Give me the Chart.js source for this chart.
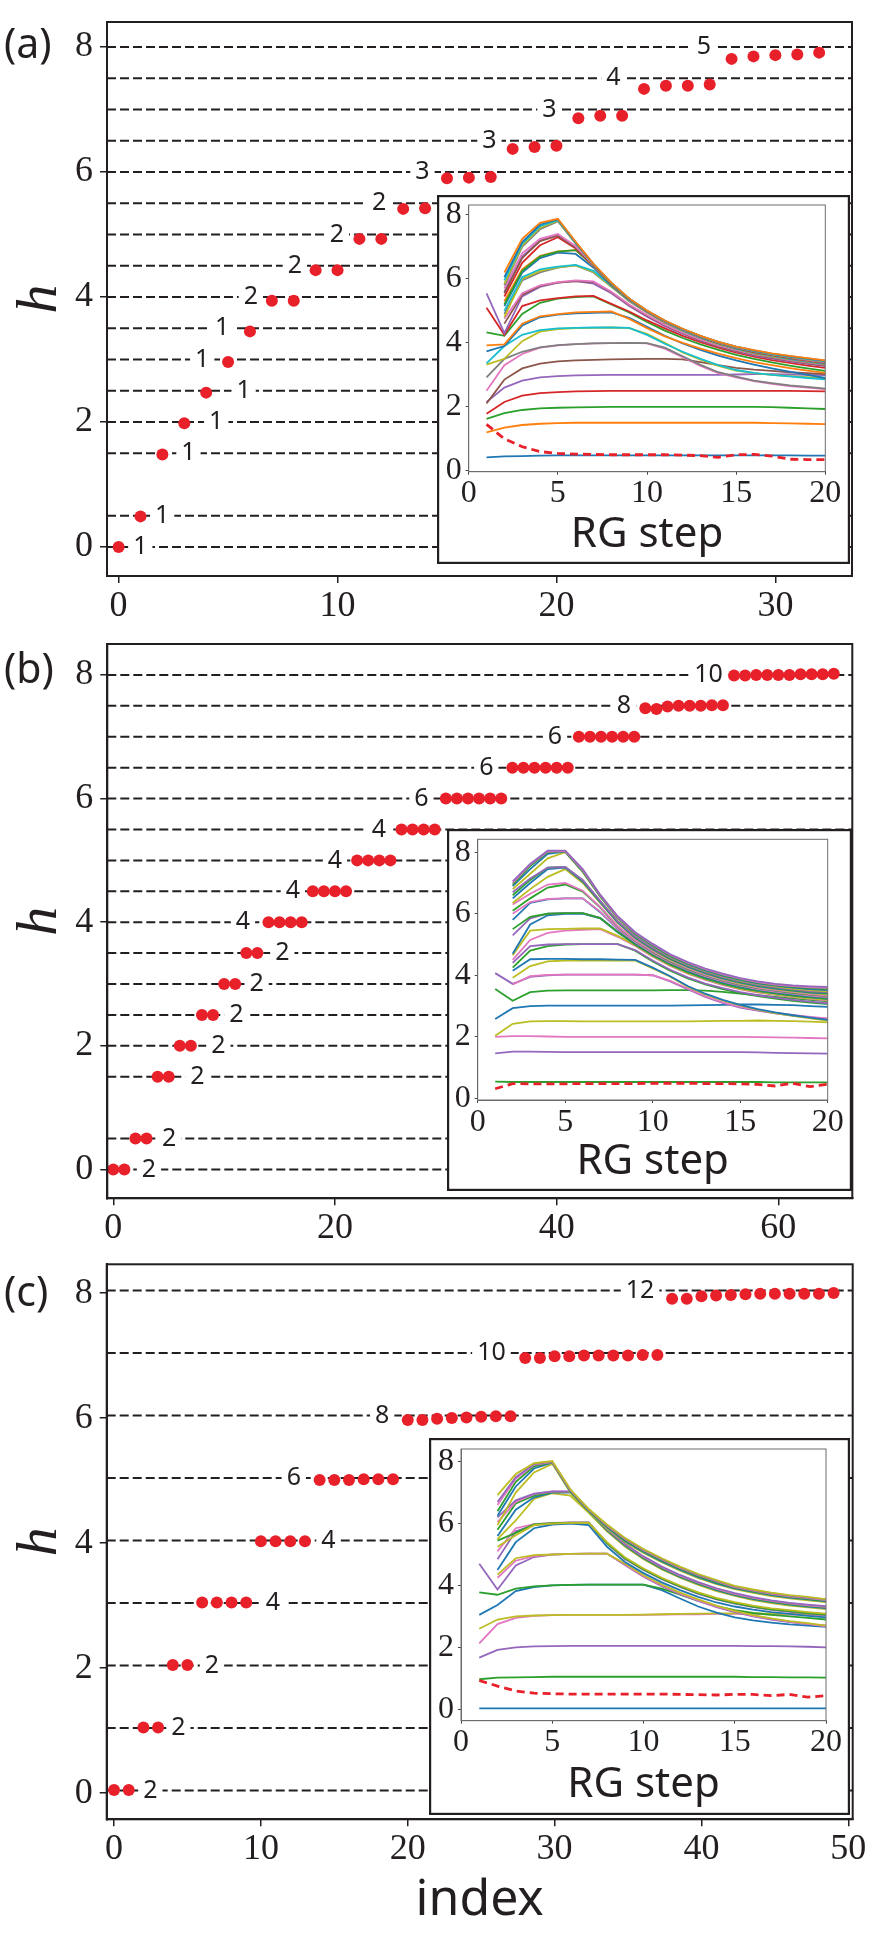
<!DOCTYPE html>
<html>
<head>
<meta charset="utf-8">
<script src="https://cdn.jsdelivr.net/npm/chart.js@4.4.1/dist/chart.umd.min.js"></script>
<style>
  html, body { margin: 0; padding: 0; background: #fff; }
  body { width: 876px; height: 1943px; position: relative; overflow: hidden; }
  canvas { position: absolute; }
</style>
</head>
<body>
<canvas id="mainA" width="876" height="630" style="left:0;top:0"></canvas>
<canvas id="mainB" width="876" height="620" style="left:0;top:630px"></canvas>
<canvas id="mainC" width="876" height="693" style="left:0;top:1250px"></canvas>
<canvas id="insetA" width="413" height="369" style="left:437px;top:195px"></canvas>
<canvas id="insetB" width="405" height="362" style="left:447px;top:829px"></canvas>
<canvas id="insetC" width="421" height="377" style="left:429px;top:1438px"></canvas>
<script>
const INK = '#231f20';
const RED = '#e8202a';
const SERIF = '"Liberation Serif", "DejaVu Serif", serif';
const SANS = '"Noto Sans", "Open Sans", sans-serif';
const blue = '#1f77b4', orange = '#ff7f0e', green = '#2ca02c', red = '#d62728', purple = '#9467bd',
      brown = '#8c564b', pink = '#e377c2', gray = '#7f7f7f', olive = '#bcbd22', cyan = '#17becf';

// ---- main panels: h vs index ----
const hA = [0, 0.49, 1.48, 1.98, 2.47, 2.96, 3.45, 3.94, 3.94, 4.43, 4.43, 4.93, 4.93, 5.41, 5.42,
  5.90, 5.91, 5.92, 6.37, 6.40, 6.42, 6.86, 6.90, 6.90, 7.33, 7.38, 7.38, 7.40, 7.81, 7.85, 7.87, 7.88, 7.91];
const levelsA = [0, 0.5, 1.5, 2, 2.5, 3, 3.5, 4, 4.5, 5, 5.5, 6, 6.5, 7, 7.5, 8];
const labelTextA = ['1','1','1','1','1','1','1','2','2','2','2','3','3','3','4','5'];
const labelXA = [0.99, 1.99, 3.19, 4.46, 5.71, 3.82, 4.73, 6.04, 8.05, 9.97, 11.9, 13.88, 16.94, 19.68, 22.6, 26.74];
const labelYA = [0, 0.5, 1.5, 2, 2.5, 3, 3.5, 4, 4.5, 5, 5.5, 6, 6.5, 7, 7.5, 8];
const xTicksA = [0, 10, 20, 30];

const hB = [0, 0, 0.5, 0.5, 1.5, 1.5, 2, 2, 2.5, 2.5, 3, 3, 3.5, 3.5,
  4, 4, 4, 4, 4.5, 4.5, 4.5, 4.5, 5, 5, 5, 5, 5.5, 5.5, 5.5, 5.5,
  6, 6, 6, 6, 6, 6, 6.5, 6.5, 6.5, 6.5, 6.5, 6.5, 7, 7, 7, 7, 7, 7,
  7.46, 7.45, 7.49, 7.5, 7.5, 7.5, 7.51, 7.51,
  7.99, 7.99, 8, 8, 8, 8, 8.01, 8.01, 8.01, 8.02];
const levelsB = [0, 0.5, 1.5, 2, 2.5, 3, 3.5, 4, 4.5, 5, 5.5, 6, 6.5, 7, 7.5, 8];
const labelTextB = ['2','2','2','2','2','2','2','4','4','4','4','6','6','6','8','10'];
const labelXB = [3.22, 5.03, 7.58, 9.48, 11.1, 12.93, 15.25, 11.7, 16.2, 20.0, 23.97, 27.8, 33.65, 39.85, 46.07, 53.7];
const labelYB = [0, 0.5, 1.5, 2, 2.5, 3, 3.5, 4, 4.5, 5, 5.5, 6, 6.5, 7, 7.5, 8];
const xTicksB = [0, 20, 40, 60];

const hC = [0.05, 0.05, 1.05, 1.05, 2.05, 2.05, 3.05, 3.05, 3.05, 3.05,
  4.03, 4.03, 4.03, 4.03, 5.01, 5.01, 5.01, 5.02, 5.02, 5.02,
  5.97, 5.97, 5.99, 6.0, 6.01, 6.02, 6.03, 6.03,
  6.96, 6.96, 6.99, 6.99, 7.0, 7.0, 7.0, 7.0, 7.01, 7.01,
  7.91, 7.91, 7.95, 7.96, 7.97, 7.98, 7.99, 7.99, 7.99, 7.99, 7.99, 8.0];
const levelsC = [0.04, 1.04, 2.04, 3.04, 4.04, 5.04, 6.04, 7.04, 8.04];
const labelTextC = ['2','2','2','4','4','6','8','10','12'];
const labelXC = [2.47, 4.38, 6.67, 10.82, 14.6, 12.24, 18.26, 25.7, 35.82];
const labelYC = [0.04, 1.04, 2.04, 3.04, 4.04, 5.04, 6.04, 7.04, 8.04];
const xTicksC = [0, 10, 20, 30, 40, 50];

const hTicks = [0, 2, 4, 6, 8];

// ---- insets: h vs RG step ----
const steps = [1,2,3,4,5,6,7,8,9,10,11,12,13,14,15,16,17,18,19,20];
const stepTicks = [0, 5, 10, 15, 20];

const insetA = [
  [0.42,0.45,0.46,0.47,0.48,0.48,0.48,0.48,0.48,0.48,0.48,0.48,0.48,0.48,0.48,0.48,0.48,0.48,0.47,0.47],
  [1.2,1.35,1.43,1.47,1.49,1.5,1.5,1.5,1.5,1.5,1.5,1.5,1.5,1.5,1.5,1.5,1.49,1.48,1.47,1.46],
  [1.62,1.8,1.9,1.95,1.97,1.98,1.99,2,2,2,2,2,2,2,2,2,1.99,1.97,1.95,1.93],
  [1.78,2.15,2.35,2.43,2.46,2.48,2.49,2.5,2.5,2.5,2.5,2.5,2.5,2.5,2.5,2.5,2.5,2.5,2.49,2.48],
  [2.15,2.6,2.82,2.92,2.96,2.98,2.99,3,3,3,3,3,3,3,3.01,3.02,3.02,3.01,3,2.99],
  [2.1,2.85,3.2,3.35,3.42,3.45,3.47,3.48,3.49,3.5,3.5,3.48,3.4,3.3,3.22,3.16,3.12,3.08,3.05,3.02],
  [2.5,3.3,3.65,3.85,3.92,3.96,3.98,3.99,4,3.98,3.82,3.55,3.28,3.05,2.92,2.8,2.72,2.65,2.6,2.55],
  [2.92,3.5,3.72,3.86,3.93,3.96,3.98,3.99,4,3.99,3.85,3.58,3.31,3.08,2.94,2.82,2.74,2.67,2.62,2.57],
  [3.32,3.5,4.05,4.35,4.43,4.46,4.47,4.48,4.46,4.28,4.0,3.7,3.47,3.28,3.13,3.05,3.0,2.96,2.93,2.9],
  [3.36,3.9,4.25,4.4,4.45,4.47,4.48,4.48,4.47,4.25,3.97,3.72,3.5,3.3,3.15,3.06,3.0,2.95,2.9,2.86],
  [3.73,3.9,4.54,4.8,4.88,4.92,4.94,4.95,4.78,4.5,4.22,3.98,3.78,3.6,3.45,3.32,3.2,3.1,3.0,2.9],
  [3.92,3.95,4.6,4.83,4.9,4.95,4.97,4.98,4.75,4.46,4.2,4.0,3.82,3.66,3.52,3.4,3.3,3.21,3.13,3.06],
  [4.33,4.22,4.9,5.25,5.38,5.43,5.45,5.2,4.95,4.65,4.38,4.15,3.95,3.78,3.62,3.5,3.39,3.29,3.2,3.12],
  [5.1,4.25,5.15,5.33,5.4,5.45,5.47,5.22,4.98,4.7,4.45,4.22,4.02,3.85,3.69,3.57,3.46,3.37,3.29,3.22],
  [5.55,4.3,5.45,5.75,5.88,5.93,5.85,5.55,5.15,4.82,4.52,4.28,4.07,3.89,3.73,3.61,3.51,3.42,3.34,3.27],
  [null,4.6,5.5,5.78,5.88,5.93,5.9,5.58,5.18,4.85,4.55,4.3,4.08,3.9,3.75,3.63,3.53,3.44,3.36,3.29],
  [null,4.75,5.55,5.8,5.9,5.95,5.92,5.6,5.2,4.87,4.57,4.32,4.1,3.92,3.77,3.65,3.55,3.46,3.38,3.31],
  [null,4.9,5.95,6.2,6.35,6.42,6.2,5.75,5.3,4.95,4.63,4.37,4.15,3.96,3.8,3.67,3.57,3.48,3.4,3.33],
  [null,4.8,6.0,6.25,6.36,6.42,6.22,5.76,5.32,4.96,4.64,4.38,4.16,3.97,3.81,3.68,3.58,3.49,3.41,3.34],
  [null,5.0,6.05,6.3,6.38,6.44,6.25,5.78,5.33,4.97,4.65,4.39,4.17,3.98,3.82,3.69,3.59,3.5,3.42,3.35],
  [null,5.15,6.2,6.65,6.82,6.78,6.35,5.8,5.34,4.97,4.66,4.4,4.18,3.99,3.83,3.7,3.6,3.51,3.43,3.36],
  [null,5.3,6.3,6.72,6.86,6.9,6.4,5.82,5.35,4.98,4.67,4.41,4.19,4.0,3.84,3.71,3.61,3.52,3.44,3.37],
  [null,5.2,6.25,6.7,6.85,6.9,6.42,5.83,5.36,4.98,4.67,4.41,4.19,4.0,3.84,3.72,3.62,3.53,3.45,3.38],
  [null,5.45,6.5,7.05,7.3,6.95,6.42,5.84,5.36,4.98,4.67,4.41,4.19,4.0,3.85,3.72,3.62,3.53,3.45,3.38],
  [null,5.6,6.7,7.2,7.36,7.0,6.43,5.85,5.37,4.99,4.68,4.42,4.2,4.01,3.85,3.73,3.63,3.54,3.46,3.39],
  [null,5.55,6.65,7.18,7.35,6.98,6.43,5.85,5.37,4.99,4.68,4.42,4.2,4.01,3.86,3.73,3.63,3.54,3.46,3.39],
  [null,5.7,6.8,7.25,7.4,7.02,6.44,5.86,5.37,4.99,4.68,4.42,4.2,4.01,3.86,3.74,3.64,3.55,3.47,3.4],
  [null,5.8,7.0,7.55,7.8,7.1,6.45,5.86,5.37,4.99,4.68,4.42,4.2,4.02,3.86,3.74,3.64,3.55,3.48,3.41],
  [null,5.85,7.05,7.6,7.82,7.12,6.45,5.86,5.38,5.0,4.69,4.43,4.21,4.02,3.87,3.75,3.65,3.56,3.49,3.42],
  [null,5.95,7.1,7.65,7.84,7.13,6.46,5.87,5.38,5.0,4.69,4.43,4.21,4.02,3.87,3.75,3.65,3.57,3.5,3.43],
  [null,6.05,7.15,7.7,7.86,7.14,6.46,5.87,5.38,5.0,4.69,4.43,4.21,4.03,3.88,3.76,3.66,3.58,3.51,3.44],
  [null,6.2,7.25,7.75,7.88,7.16,6.47,5.88,5.39,5.01,4.7,4.44,4.22,4.03,3.88,3.77,3.67,3.59,3.52,3.45]
];
const insetAColors = [blue, orange, green, red, purple, brown, pink, gray, olive, cyan,
  blue, orange, green, red, purple, brown, pink, gray, olive, cyan,
  blue, orange, green, red, purple, brown, pink, gray, olive, cyan, blue, orange];
const dashA = [1.45,1.0,0.75,0.6,0.54,0.52,0.51,0.5,0.5,0.5,0.5,0.49,0.47,0.42,0.5,0.51,0.46,0.36,0.35,0.35];

const insetB = [
  [0.54,0.53,0.53,0.53,0.53,0.53,0.53,0.53,0.53,0.53,0.53,0.53,0.53,0.53,0.53,0.53,0.52,0.52,0.52,0.52],
  [1.46,1.52,1.52,1.51,1.5,1.5,1.5,1.5,1.5,1.5,1.5,1.5,1.5,1.5,1.5,1.49,1.48,1.47,1.46,1.45],
  [2.0,2.02,2.02,2.01,2.0,2.0,2.0,2.0,2.0,2.0,2.0,2.0,2.0,2.0,2.0,1.99,1.98,1.97,1.96,1.95],
  [2.03,2.42,2.5,2.51,2.51,2.5,2.5,2.5,2.5,2.5,2.5,2.5,2.51,2.52,2.52,2.53,2.52,2.51,2.49,2.47],
  [2.58,2.93,3.0,3.01,3.01,3.01,3.01,3.01,3.01,3.01,3.01,3.02,3.03,3.04,3.05,3.05,3.04,3.03,3.0,2.97],
  [3.55,3.17,3.45,3.5,3.51,3.51,3.51,3.51,3.51,3.51,3.52,3.52,3.5,3.46,3.4,3.35,3.3,3.25,3.2,3.15],
  [4.07,3.72,3.95,4.0,4.02,4.02,4.02,4.02,4.02,4.0,3.8,3.55,3.3,3.1,2.95,2.85,2.76,2.69,2.63,2.58],
  [null,3.7,3.97,4.01,4.02,4.02,4.02,4.02,4.02,4.0,3.82,3.57,3.32,3.12,2.97,2.87,2.78,2.71,2.65,2.6],
  [null,3.92,4.3,4.45,4.48,4.48,4.48,4.48,4.48,4.22,3.95,3.63,3.38,3.18,3.02,2.88,2.77,2.68,2.6,2.53],
  [null,4.15,4.52,4.53,4.53,4.52,4.52,4.51,4.5,4.25,3.97,3.65,3.4,3.2,3.04,2.9,2.79,2.7,2.62,2.55],
  [null,4.25,4.8,4.95,5.0,5.01,5.01,5.01,4.8,4.45,4.15,3.9,3.7,3.55,3.42,3.32,3.24,3.17,3.11,3.06],
  [null,4.4,4.95,5.0,5.01,5.01,5.01,5.01,4.82,4.48,4.18,3.93,3.73,3.58,3.45,3.35,3.27,3.2,3.14,3.09],
  [null,4.5,5.15,5.38,5.45,5.48,5.5,5.25,4.95,4.6,4.3,4.05,3.85,3.68,3.54,3.44,3.36,3.29,3.23,3.18],
  [null,4.65,5.45,5.5,5.51,5.52,5.52,5.28,4.98,4.62,4.32,4.07,3.87,3.7,3.56,3.46,3.38,3.31,3.25,3.2],
  [null,4.7,5.65,5.95,6.0,6.0,5.85,5.4,5.0,4.65,4.35,4.1,3.9,3.73,3.59,3.49,3.41,3.34,3.28,3.23],
  [null,5.3,5.85,6.0,6.02,6.02,5.87,5.42,5.02,4.67,4.37,4.12,3.92,3.75,3.61,3.51,3.43,3.36,3.3,3.25],
  [null,5.5,5.9,6.0,6.02,6.02,5.86,5.41,5.01,4.66,4.36,4.11,3.91,3.74,3.6,3.5,3.42,3.35,3.29,3.24],
  [null,5.8,6.35,6.47,6.5,6.5,6.05,5.5,5.06,4.7,4.4,4.15,3.95,3.78,3.64,3.53,3.45,3.38,3.32,3.27],
  [null,6.0,6.38,6.48,6.5,6.5,6.07,5.52,5.08,4.72,4.42,4.17,3.97,3.8,3.66,3.55,3.47,3.4,3.34,3.29],
  [null,6.1,6.5,6.85,6.95,6.72,6.2,5.58,5.12,4.76,4.45,4.2,4.0,3.83,3.69,3.58,3.5,3.43,3.37,3.32],
  [null,6.3,6.65,6.95,7.0,6.75,6.22,5.6,5.14,4.78,4.47,4.22,4.02,3.85,3.71,3.6,3.52,3.45,3.39,3.34],
  [null,6.35,6.8,7.2,7.45,7.0,6.35,5.7,5.2,4.83,4.51,4.26,4.05,3.88,3.74,3.63,3.55,3.48,3.42,3.37],
  [null,6.5,7.0,7.45,7.5,7.05,6.38,5.72,5.22,4.85,4.53,4.28,4.07,3.9,3.76,3.65,3.57,3.5,3.44,3.4],
  [null,6.6,7.1,7.5,7.52,7.08,6.4,5.74,5.24,4.87,4.55,4.3,4.09,3.92,3.78,3.67,3.59,3.52,3.46,3.42],
  [null,6.7,7.15,7.5,7.52,7.1,6.42,5.76,5.26,4.89,4.57,4.32,4.11,3.94,3.8,3.69,3.61,3.54,3.48,3.45],
  [null,6.8,7.3,7.8,8.0,7.35,6.55,5.85,5.32,4.94,4.6,4.35,4.14,3.97,3.83,3.72,3.64,3.57,3.52,3.48],
  [null,6.9,7.45,7.95,8.02,7.38,6.57,5.87,5.34,4.96,4.62,4.37,4.16,3.99,3.85,3.74,3.66,3.6,3.55,3.52],
  [null,6.95,7.55,8.0,8.03,7.4,6.58,5.88,5.36,4.98,4.64,4.39,4.18,4.01,3.87,3.76,3.68,3.62,3.58,3.56],
  [null,7.0,7.6,8.02,8.04,7.42,6.6,5.9,5.38,5.0,4.66,4.41,4.2,4.03,3.89,3.78,3.7,3.65,3.61,3.59],
  [null,7.05,7.62,8.05,8.05,7.45,6.62,5.92,5.4,5.02,4.68,4.43,4.22,4.05,3.91,3.8,3.72,3.67,3.64,3.62]
];
const insetBColors = [green, purple, pink, olive, blue, green, purple, pink, olive, blue,
  green, purple, pink, olive, blue, purple, green, blue, pink, green,
  pink, olive, blue, green, purple, olive, blue, green, pink, purple];
const dashB = [0.31,0.48,0.47,0.47,0.47,0.48,0.48,0.48,0.48,0.49,0.49,0.49,0.48,0.48,0.47,0.45,0.4,0.49,0.38,0.46];

const insetC = [
  [0.03,0.03,0.03,0.03,0.03,0.03,0.03,0.03,0.03,0.03,0.03,0.03,0.03,0.03,0.03,0.03,0.03,0.03,0.03,0.03],
  [0.97,1.02,1.03,1.04,1.05,1.05,1.05,1.05,1.05,1.05,1.05,1.05,1.05,1.05,1.05,1.04,1.04,1.03,1.03,1.02],
  [1.67,1.92,2.0,2.03,2.04,2.05,2.05,2.05,2.05,2.05,2.05,2.05,2.05,2.05,2.05,2.04,2.04,2.03,2.02,2.0],
  [2.13,2.75,2.95,3.02,3.04,3.05,3.05,3.05,3.05,3.05,3.06,3.07,3.07,3.08,3.08,3.08,3.07,3.06,3.05,3.03],
  [2.6,2.9,3.0,3.03,3.04,3.05,3.05,3.05,3.05,3.06,3.07,3.08,3.09,3.1,3.1,3.1,3.09,3.08,3.07,3.06],
  [3.05,3.37,3.82,3.95,4.0,4.02,4.03,4.03,4.03,4.03,3.85,3.58,3.32,3.12,2.97,2.87,2.8,2.74,2.7,2.66],
  [3.78,3.7,3.9,3.97,4.0,4.02,4.03,4.03,4.03,4.03,3.9,3.7,3.5,3.33,3.2,3.11,3.05,3.0,2.95,2.9],
  [4.7,3.87,4.65,4.92,5.0,5.02,5.03,5.03,4.65,4.28,3.98,3.72,3.5,3.3,3.14,3.0,2.9,2.82,2.75,2.7],
  [null,4.25,4.8,4.95,5.0,5.02,5.03,5.03,4.67,4.3,4.0,3.74,3.52,3.32,3.16,3.02,2.92,2.83,2.76,2.68],
  [null,4.35,4.88,4.98,5.0,5.02,5.03,5.03,4.7,4.33,4.03,3.77,3.55,3.35,3.18,3.04,2.94,2.85,2.78,2.7],
  [null,4.5,5.4,5.85,5.97,6.0,5.95,5.25,4.75,4.4,4.1,3.85,3.63,3.45,3.32,3.22,3.14,3.08,3.02,2.97],
  [null,4.85,5.75,5.95,6.0,6.03,6.03,5.35,4.85,4.5,4.2,3.95,3.73,3.55,3.41,3.3,3.21,3.15,3.09,3.04],
  [null,5.1,5.85,5.98,6.02,6.04,6.04,5.38,4.88,4.53,4.23,3.98,3.76,3.58,3.44,3.33,3.24,3.18,3.12,3.07],
  [null,5.45,5.7,5.97,6.01,6.03,6.03,5.36,4.87,4.52,4.22,3.97,3.75,3.57,3.43,3.32,3.23,3.17,3.11,3.06],
  [null,5.25,5.62,5.95,6.0,6.02,6.02,5.4,4.9,4.55,4.25,4.0,3.78,3.6,3.46,3.35,3.26,3.2,3.14,3.09],
  [null,5.5,6.1,6.8,6.98,6.9,6.35,5.75,5.25,4.85,4.52,4.25,4.02,3.82,3.66,3.53,3.43,3.35,3.29,3.24],
  [null,5.6,6.45,6.85,7.0,7.0,6.4,5.78,5.28,4.88,4.55,4.28,4.05,3.85,3.69,3.56,3.46,3.38,3.32,3.27],
  [null,5.8,6.65,6.9,7.02,7.02,6.42,5.8,5.3,4.9,4.57,4.3,4.07,3.87,3.71,3.58,3.48,3.4,3.34,3.29],
  [null,6.05,6.7,6.95,7.03,7.03,6.44,5.82,5.32,4.92,4.59,4.32,4.09,3.89,3.73,3.6,3.5,3.42,3.36,3.31],
  [null,6.2,6.75,6.97,7.04,7.04,6.45,5.84,5.34,4.94,4.61,4.34,4.11,3.91,3.75,3.62,3.52,3.44,3.38,3.33],
  [null,5.95,7.0,7.65,7.93,7.0,6.38,5.85,5.4,5.05,4.75,4.48,4.24,4.04,3.88,3.76,3.66,3.58,3.52,3.46],
  [null,6.25,7.2,7.78,7.97,7.03,6.4,5.88,5.43,5.08,4.78,4.51,4.27,4.07,3.91,3.79,3.69,3.61,3.55,3.49],
  [null,6.4,7.35,7.85,7.98,7.05,6.42,5.9,5.46,5.11,4.81,4.54,4.3,4.1,3.93,3.81,3.71,3.63,3.57,3.51],
  [null,6.6,7.45,7.9,7.99,7.07,6.44,5.93,5.49,5.14,4.84,4.57,4.33,4.13,3.95,3.83,3.73,3.65,3.59,3.53],
  [null,6.7,7.5,7.92,8.0,7.08,6.45,5.95,5.51,5.16,4.86,4.59,4.35,4.15,3.97,3.85,3.75,3.67,3.61,3.55],
  [null,6.92,7.6,7.95,8.02,7.1,6.47,5.97,5.53,5.18,4.88,4.61,4.37,4.17,3.99,3.87,3.77,3.69,3.63,3.56]
];
const insetCColors = [blue, green, purple, pink, olive, blue, green, purple, pink, olive,
  blue, purple, pink, green, olive, olive, blue, green, pink, purple,
  olive, blue, green, pink, purple, olive];
const dashC = [0.93,0.75,0.59,0.52,0.5,0.49,0.49,0.49,0.49,0.49,0.49,0.48,0.47,0.46,0.48,0.48,0.44,0.48,0.39,0.44];

// ---- shared plugins ----
const framePlugin = {
  id: 'frame',
  afterDatasetsDraw(chart, args, opts) {
    const a = chart.chartArea, ctx = chart.ctx;
    ctx.save();
    ctx.strokeStyle = opts.color;
    ctx.lineWidth = opts.width;
    ctx.strokeRect(a.left, a.top, a.right - a.left, a.bottom - a.top);
    ctx.restore();
  }
};

// degeneracy labels sit on the dashed lines with a white backing, under the dots
const levelLabels = {
  id: 'levelLabels',
  beforeDatasetDraw(chart, args, opts) {
    if (args.index !== 0 || !opts.text) return;
    const ctx = chart.ctx, xs = chart.scales.x, ys = chart.scales.y;
    ctx.save();
    ctx.font = '25px ' + SANS;
    ctx.textAlign = 'center';
    ctx.textBaseline = 'middle';
    opts.text.forEach((t, i) => {
      const px = xs.getPixelForValue(opts.x[i]);
      const py = ys.getPixelForValue(opts.y[i]);
      const w = ctx.measureText(t).width;
      ctx.fillStyle = '#fff';
      ctx.fillRect(px - w / 2 - 5, py - 12, w + 10, 24);
      ctx.fillStyle = INK;
      ctx.fillText(t, px, py);
    });
    ctx.restore();
  },
  afterDraw(chart, args, opts) {
    if (!opts.tag) return;
    const ctx = chart.ctx;
    ctx.save();
    ctx.font = '41px ' + SANS;
    ctx.fillStyle = INK;
    ctx.textAlign = 'left';
    ctx.textBaseline = 'middle';
    ctx.fillText(opts.tag, 4, opts.tagY);
    ctx.restore();
  }
};

const insetBox = {
  id: 'insetBox',
  beforeDraw(chart) {
    const ctx = chart.ctx, w = chart.width, h = chart.height;
    ctx.save();
    ctx.fillStyle = '#fff';
    ctx.fillRect(0, 0, w, h);
    ctx.strokeStyle = INK;
    ctx.lineWidth = 2.2;
    ctx.strokeRect(1.1, 1.1, w - 2.2, h - 2.2);
    ctx.restore();
  }
};

function mainPanel(id, p) {
  const datasets = [{
    type: 'scatter',
    data: p.h.map((v, i) => ({ x: i, y: v })),
    pointRadius: 6, pointHoverRadius: 6, pointBackgroundColor: RED, pointBorderWidth: 0,
    order: 0
  }];
  p.levels.forEach(lv => datasets.push({
    type: 'line',
    data: [{ x: p.xMin, y: lv }, { x: p.xMax, y: lv }],
    borderColor: INK, borderWidth: 2, borderDash: [9, 4], pointRadius: 0,
    order: 1
  }));

  new Chart(document.getElementById(id), {
    type: 'scatter',
    data: { datasets },
    options: {
      responsive: false, animation: false, events: [],
      layout: { autoPadding: false, padding: { left: 0, top: p.padTop, right: p.padRight, bottom: 0 } },
      plugins: {
        legend: { display: false }, tooltip: { enabled: false },
        frame: { color: INK, width: 2 },
        levelLabels: { text: p.labelText, x: p.labelX, y: p.labelY, tag: p.tag, tagY: p.tagY }
      },
      scales: {
        x: {
          type: 'linear', min: p.xMin, max: p.xMax,
          afterBuildTicks: s => { s.ticks = p.xTicks.map(v => ({ value: v })); },
          afterFit: s => { s.height = p.xHeight; s.paddingLeft = 0; s.paddingRight = 0; },
          grid: { drawOnChartArea: false, drawTicks: true, tickLength: 7, color: INK, lineWidth: 1.5 },
          border: { display: true, color: INK, width: 2 },
          ticks: { font: { family: SERIF, size: 36 }, color: INK, padding: 2, maxRotation: 0, autoSkip: false },
          title: { display: !!p.xTitle, text: p.xTitle || '', color: INK,
                   font: { family: SANS, size: 50 }, padding: { top: 0, bottom: 12 } }
        },
        y: {
          type: 'linear', min: p.yMin, max: p.yMax,
          afterBuildTicks: s => { s.ticks = hTicks.map(v => ({ value: v })); },
          afterFit: s => { s.width = p.yWidth; s.paddingTop = 0; s.paddingBottom = 0; },
          grid: { drawOnChartArea: false, drawTicks: true, tickLength: 7, color: INK, lineWidth: 1.5 },
          border: { display: true, color: INK, width: 2 },
          ticks: { font: { family: SERIF, size: 36 }, color: INK, padding: 7 },
          title: { display: true, text: 'h', color: INK,
                   font: { family: SERIF, size: 58, style: 'italic' }, padding: { top: 6, bottom: 0 } }
        }
      }
    },
    plugins: [framePlugin, levelLabels]
  });
}

function insetPanel(id, p) {
  const n = p.lines.length;
  const datasets = p.lines.map((vals, k) => ({
    type: 'line',
    data: vals.map((v, i) => ({ x: steps[i], y: v })),
    borderColor: p.colors[k], borderWidth: 1.8, pointRadius: 0, tension: 0,
    order: n - k + 1
  }));
  datasets.push({
    type: 'line',
    data: p.dash.map((v, i) => ({ x: steps[i], y: v })),
    borderColor: RED, borderWidth: 2.8, borderDash: [8, 5], pointRadius: 0, tension: 0,
    order: 0
  });

  new Chart(document.getElementById(id), {
    type: 'line',
    data: { datasets },
    options: {
      responsive: false, animation: false, events: [],
      layout: { autoPadding: false, padding: { left: 0, top: p.padTop, right: p.padRight, bottom: 0 } },
      plugins: { legend: { display: false }, tooltip: { enabled: false }, frame: { color: '#6d6d6d', width: 1 } },
      scales: {
        x: {
          type: 'linear', min: 0, max: 20,
          afterBuildTicks: s => { s.ticks = stepTicks.map(v => ({ value: v })); },
          afterFit: s => { s.height = p.xHeight; s.paddingLeft = 0; s.paddingRight = 0; },
          grid: { drawOnChartArea: false, drawTicks: true, tickLength: 3, color: '#444', lineWidth: 1 },
          border: { display: true, color: '#6d6d6d', width: 1 },
          ticks: { font: { family: SERIF, size: 32 }, color: INK, padding: 0, maxRotation: 0, autoSkip: false },
          title: { display: true, text: 'RG step', color: INK,
                   font: { family: SANS, size: 42 }, padding: { top: 0, bottom: p.titlePad } }
        },
        y: {
          type: 'linear', min: p.yMin, max: p.yMax,
          afterBuildTicks: s => { s.ticks = hTicks.map(v => ({ value: v })); },
          afterFit: s => { s.width = p.yWidth; s.paddingTop = 0; s.paddingBottom = 0; },
          grid: { drawOnChartArea: false, drawTicks: true, tickLength: 3, color: '#444', lineWidth: 1 },
          border: { display: true, color: '#6d6d6d', width: 1 },
          ticks: { font: { family: SERIF, size: 32 }, color: INK, padding: 4 }
        }
      }
    },
    plugins: [insetBox, framePlugin]
  });
}

mainPanel('mainA', {
  h: hA, levels: levelsA, labelText: labelTextA, labelX: labelXA, labelY: labelYA, xTicks: xTicksA,
  xMin: -0.53, xMax: 33.5, yMin: -0.464, yMax: 8.4,
  padTop: 22, padRight: 24, yWidth: 107, xHeight: 54, tag: '(a)', tagY: 46
});
mainPanel('mainB', {
  h: hB, levels: levelsB, labelText: labelTextB, labelX: labelXB, labelY: labelYB, xTicks: xTicksB,
  xMin: -0.54, xMax: 66.67, yMin: -0.466, yMax: 8.5,
  padTop: 14, padRight: 23.7, yWidth: 107.3, xHeight: 51.7, tag: '(b)', tagY: 41
});
mainPanel('mainC', {
  h: hC, levels: levelsC, labelText: labelTextC, labelX: labelXC, labelY: labelYC, xTicks: xTicksC,
  xMin: -0.5, xMax: 50.3, yMin: -0.42, yMax: 8.46,
  padTop: 14.3, padRight: 23.3, yWidth: 106.7, xHeight: 123.7, tag: '(c)', tagY: 44, xTitle: 'index'
});

insetPanel('insetA', { lines: insetA, colors: insetAColors, dash: dashA,
  yMin: -0.03, yMax: 8.31, padTop: 10, padRight: 24.7, yWidth: 31.7, xHeight: 92.3, titlePad: 4 });
insetPanel('insetB', { lines: insetB, colors: insetBColors, dash: dashB,
  yMin: -0.055, yMax: 8.42, padTop: 10.3, padRight: 24.3, yWidth: 30.7, xHeight: 91, titlePad: 4 });
insetPanel('insetC', { lines: insetC, colors: insetCColors, dash: dashC,
  yMin: -0.37, yMax: 8.41, padTop: 11, padRight: 24, yWidth: 32, xHeight: 94.3, titlePad: 5 });
</script>
</body>
</html>
